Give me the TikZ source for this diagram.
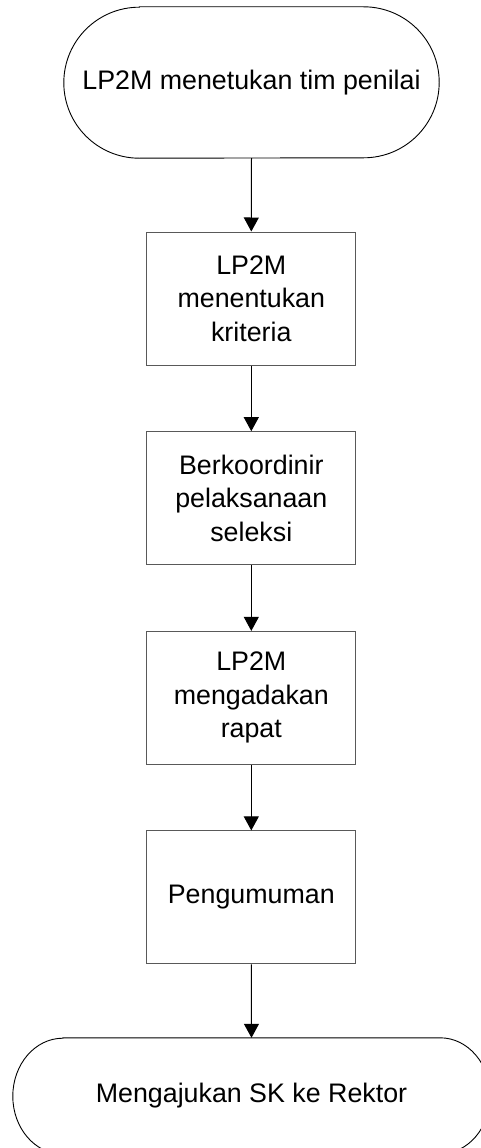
\documentclass[tikz,border=0pt]{standalone}
\usepackage{fontspec}
\setmainfont{Liberation Sans}
\usetikzlibrary{arrows.meta}
\begin{document}
\begin{tikzpicture}[x=1pt,y=1pt,
  txt/.style={font=\fontsize{26.8}{33.5}\selectfont, align=center, inner sep=0pt},
  procbox/.style={txt, draw=black!65, line width=1pt, minimum width=209pt, minimum height=133pt},
  termnode/.style={txt, draw=none},
  outline/.style={draw=black, line width=0.9pt},
  flow/.style={draw=black, line width=1pt, -{Triangle[width=15pt,length=14pt]}}
]
\useasboundingbox (0,0) rectangle (481,-1148);
\fill[white] (0,0) rectangle (481,-1148);

\node[termnode, minimum width=375pt, minimum height=151pt] (t1) at (251.5,-82.5) {LP2M menetukan tim penilai};
\draw[outline] ([xshift=75.5pt]t1.north west) -- ([xshift=-75.5pt]t1.north east)
  arc[start angle=90, end angle=-90, radius=75.5pt]
  -- ([xshift=75.5pt]t1.south west)
  arc[start angle=270, end angle=90, radius=75.5pt] -- cycle;

\node[procbox] (b1) at (251.3,-298.5) {LP2M\\menentukan\\kriteria};
\node[procbox] (b2) at (251.3,-498.2) {Berkoordinir\\pelaksanaan\\seleksi};
\node[procbox] (b3) at (251.3,-697.9) {LP2M\\mengadakan\\rapat};
\node[procbox] (b4) at (251.3,-897.4) {Pengumuman};

\node[termnode, minimum width=477pt, minimum height=116pt] (t2) at (251.5,-1096) {Mengajukan SK ke Rektor};
\draw[outline] ([xshift=50pt]t2.north west) -- ([xshift=-50pt]t2.north east)
  arc[start angle=90, end angle=-90, x radius=50pt, y radius=58pt]
  -- ([xshift=50pt]t2.south west)
  arc[start angle=270, end angle=90, x radius=50pt, y radius=58pt] -- cycle;

\draw[flow] (t1.south) -- (b1.north);
\draw[flow] (b1.south) -- (b2.north);
\draw[flow] (b2.south) -- (b3.north);
\draw[flow] (b3.south) -- (b4.north);
\draw[flow] (b4.south) -- (t2.north);
\end{tikzpicture}
\end{document}
